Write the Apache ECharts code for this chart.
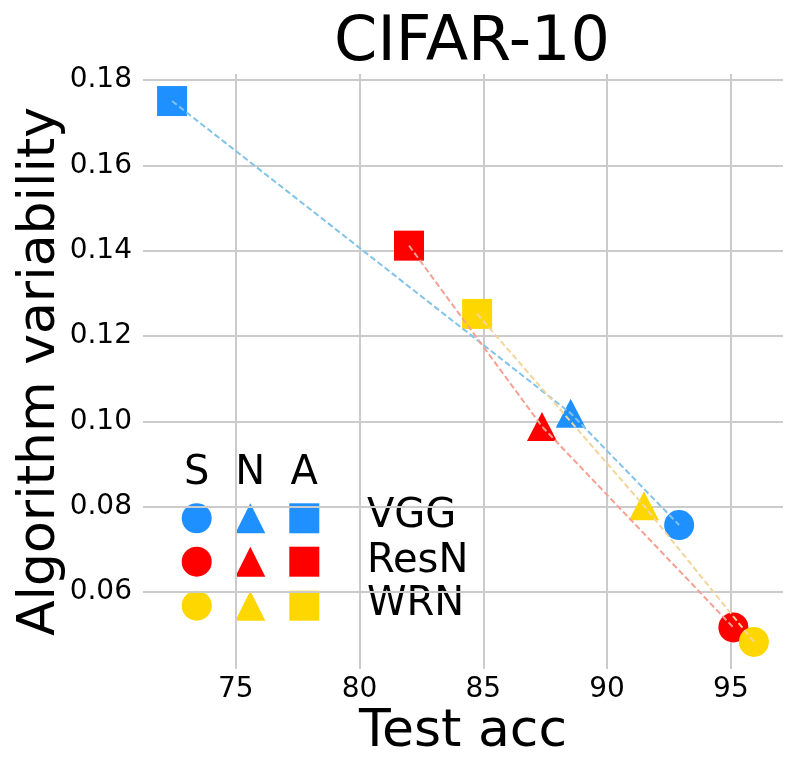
<!DOCTYPE html>
<html>
<head>
<meta charset="utf-8">
<script src="https://cdn.jsdelivr.net/npm/echarts@6/dist/echarts.min.js"></script>
<style>html,body{margin:0;padding:0;background:#fff;}#c{width:798px;height:777px;}</style>
</head>
<body>
<div id="c"></div>
<script>
// Data
const models = ['VGG', 'ResN', 'WRN'];
const colors = ['#1E90FF', '#FF0000', '#FFD700'];
const lineColors = ['#82C3E8', '#F5A091', '#F2D59C'];
const methods = ['S', 'N', 'A'];
// Test accuracy per method (index = model)
const accS = [92.91, 95.10, 95.93];
const accN = [88.53, 87.37, 91.49];
const accA = [72.43, 82.00, 84.75];
// Algorithm variability per method (index = model)
const varS = [0.0757, 0.0517, 0.0483];
const varN = [0.1019, 0.0988, 0.0802];
const varA = [0.1751, 0.1412, 0.1252];

const FONT = 'DejaVu Sans';
const chart = echarts.init(document.getElementById('c'), null, {renderer: 'canvas'});

const series = [];
models.forEach((m, i) => {
  series.push({
    type: 'line',
    name: m + ' line',
    data: [[accA[i], varA[i]], [accN[i], varN[i]], [accS[i], varS[i]]],
    symbol: 'none',
    lineStyle: {color: lineColors[i], width: 2, type: [6, 3]},
    z: 5,
    silent: true
  });
  series.push({
    type: 'scatter',
    name: m,
    data: [
      {value: [accS[i], varS[i]], symbol: 'circle', symbolSize: 30},
      {value: [accN[i], varN[i]], symbol: 'triangle', symbolSize: [30, 29]},
      {value: [accA[i], varA[i]], symbol: 'rect', symbolSize: 30}
    ],
    itemStyle: {color: colors[i], opacity: 1},
    z: 3
  });
});

// Custom legend (S / N / A columns, model rows)
const legCols = [196.7, 250.3, 304.3];
const legRows = [518.3, 561.7, 605.7];
const legTextY = [517, 562, 605];
const graphics = [];
methods.forEach((t, j) => {
  graphics.push({type: 'text', x: legCols[j], y: 474, style: {text: t, font: '40px "' + FONT + '"', fill: '#000', textAlign: 'center', textVerticalAlign: 'middle'}});
});
models.forEach((m, i) => {
  const cy = legRows[i];
  graphics.push({type: 'circle', shape: {cx: legCols[0], cy: cy, r: 15}, style: {fill: colors[i]}});
  graphics.push({type: 'polygon', shape: {points: [[legCols[1], cy - 15], [legCols[1] - 15, cy + 15], [legCols[1] + 15, cy + 15]]}, style: {fill: colors[i]}});
  graphics.push({type: 'rect', shape: {x: legCols[2] - 15, y: cy - 15, width: 30, height: 30}, style: {fill: colors[i]}});
  graphics.push({type: 'text', x: 367, y: legTextY[i], style: {text: m, font: '40px "' + FONT + '"', fill: '#000', textAlign: 'left', textVerticalAlign: 'middle'}});
});

chart.setOption({
  animation: false,
  backgroundColor: '#ffffff',
  title: {
    text: 'CIFAR-10', left: 467, top: 8, textAlign: 'center',
    textStyle: {fontFamily: FONT, fontSize: 62, fontWeight: 'normal', color: '#000'}
  },
  grid: {left: 143, right: 15, top: 74, bottom: 108, containLabel: false},
  xAxis: {
    type: 'value', min: 71.255, max: 97.105, splitNumber: 5,
    name: 'Test acc', nameLocation: 'middle', nameGap: 37, nameMoveOverlap: false,
    nameTextStyle: {fontFamily: FONT, fontSize: 52, color: '#000'},
    axisLine: {show: false}, axisTick: {show: false},
    axisLabel: {fontFamily: FONT, fontSize: 28, color: '#000', margin: 7, showMinLabel: false, showMaxLabel: false},
    splitLine: {show: true, showMinLine: false, showMaxLine: false, lineStyle: {color: '#cbcbcb', width: 2}}
  },
  yAxis: {
    type: 'value', min: 0.04196, max: 0.18144, splitNumber: 7,
    name: 'Algorithm variability', nameLocation: 'middle', nameGap: 77, nameRotate: 90, nameMoveOverlap: false,
    nameTextStyle: {fontFamily: FONT, fontSize: 52, color: '#000'},
    axisLine: {show: false}, axisTick: {show: false},
    axisLabel: {fontFamily: FONT, fontSize: 28, color: '#000', margin: 11, showMinLabel: false, showMaxLabel: false,
      formatter: v => v.toFixed(2)},
    splitLine: {show: true, showMinLine: false, showMaxLine: false, lineStyle: {color: '#cbcbcb', width: 2}}
  },
  series: series,
  graphic: graphics
});
</script>
</body>
</html>
